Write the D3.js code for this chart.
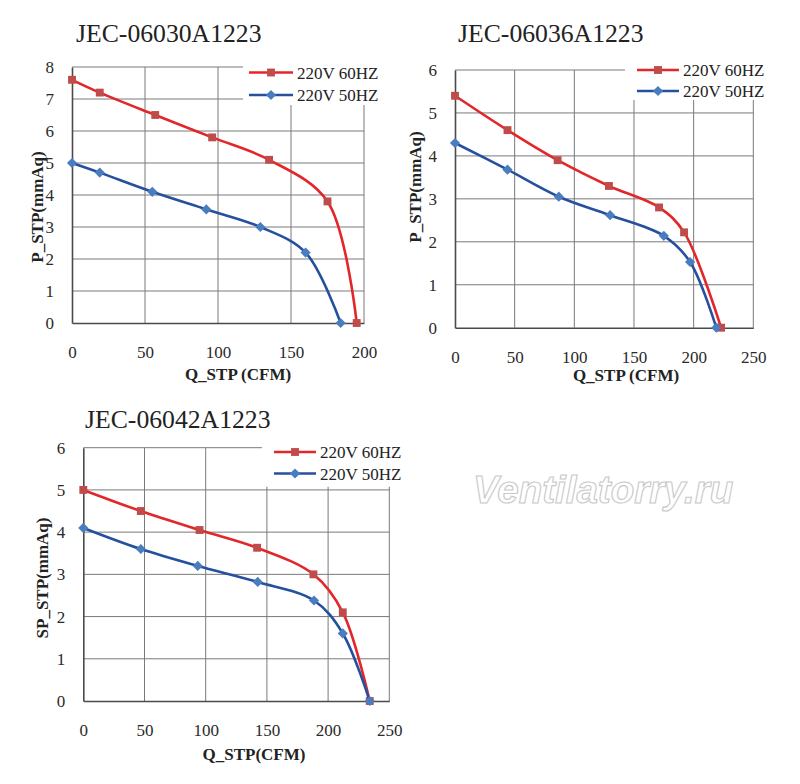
<!DOCTYPE html>
<html><head><meta charset="utf-8">
<script src="https://cdn.jsdelivr.net/npm/d3@7"></script>
<style>
html,body{margin:0;padding:0;background:#fff;}
svg{display:block;}
</style></head>
<body>
<svg id="c" width="800" height="784"></svg>
<script>
// ---------- data ----------
const seriesNames = ["220V 60HZ", "220V 50HZ"];
const titles = ["JEC-06030A1223", "JEC-06036A1223", "JEC-06042A1223"];
const yLabels = ["P_STP(mmAq)", "P_STP(mmAq)", "SP_STP(mmAq)"];
const xLabels = ["Q_STP (CFM)", "Q_STP (CFM)", "Q_STP(CFM)"];

const c1_xTicks = [0, 50, 100, 150, 200];
const c1_yTicks = [0, 1, 2, 3, 4, 5, 6, 7, 8];
const c1_q60 = [0, 19, 57, 96, 135, 175, 195];
const c1_p60 = [7.6, 7.2, 6.5, 5.8, 5.1, 3.8, 0];
const c1_q50 = [0, 19, 55, 92, 129, 160, 184];
const c1_p50 = [5.0, 4.7, 4.1, 3.55, 3.0, 2.2, 0];

const c2_xTicks = [0, 50, 100, 150, 200, 250];
const c2_yTicks = [0, 1, 2, 3, 4, 5, 6];
const c2_q60 = [0, 44, 86, 129, 171, 192, 223];
const c2_p60 = [5.4, 4.6, 3.9, 3.3, 2.8, 2.22, 0];
const c2_q50 = [0, 44, 87, 130, 175, 197, 219];
const c2_p50 = [4.3, 3.68, 3.05, 2.62, 2.14, 1.53, 0];

const c3_xTicks = [0, 50, 100, 150, 200, 250];
const c3_yTicks = [0, 1, 2, 3, 4, 5, 6];
const c3_q60 = [0, 47, 95, 142, 188, 212, 234];
const c3_p60 = [5.0, 4.5, 4.05, 3.63, 3.0, 2.1, 0];
const c3_q50 = [0, 47, 93.5, 142.5, 188.5, 212, 234];
const c3_p50 = [4.1, 3.6, 3.2, 2.82, 2.38, 1.6, 0];

const watermark = "Ventilatorry.ru";

// ---------- layout ----------
const svg = d3.select("#c");
const SERIF = "'Liberation Serif','Times New Roman',serif";

const layouts = [
  {x0:72, x1:364, yTop:67, yBot:323, titleX:76, titleY:42,
   leg:{x:243, y:55, w:145, h:50, lx0:249, lx1:293, row1:72.5, row2:95, tx:297},
   ylab:{x:37, y:207}, xlab:{x:238, y:380}},
  {x0:455, x1:753.3, yTop:70, yBot:327.7, titleX:458, titleY:42,
   leg:{x:625, y:55, w:160, h:45, lx0:637, lx1:679, row1:70, row2:91, tx:683},
   ylab:{x:415, y:187}, xlab:{x:626, y:381}},
  {x0:83.3, x1:389.3, yTop:447.7, yBot:701, titleX:85, titleY:428,
   leg:{x:262, y:440, w:150, h:46.7, lx0:274, lx1:316, row1:452, row2:473.5, tx:320},
   ylab:{x:41.7, y:578}, xlab:{x:254, y:760}}
];

const charts = [
  {xTicks:c1_xTicks, yTicks:c1_yTicks, s:[{q:c1_q60,p:c1_p60},{q:c1_q50,p:c1_p50}]},
  {xTicks:c2_xTicks, yTicks:c2_yTicks, s:[{q:c2_q60,p:c2_p60},{q:c2_q50,p:c2_p50}]},
  {xTicks:c3_xTicks, yTicks:c3_yTicks, s:[{q:c3_q60,p:c3_p60},{q:c3_q50,p:c3_p50}]}
];

const lineColors = ["#e3262a", "#24509e"];
const markColors = ["#bf4b4a", "#4a7dbf"];
const symbols = [d3.symbol(d3.symbolSquare, 62), d3.symbol(d3.symbolDiamond2, 66)];

// watermark
svg.append("text")
  .attr("x", 473).attr("y", 503)
  .attr("font-family", "'Liberation Sans',Arial,sans-serif")
  .attr("font-weight", "bold").attr("font-style", "italic")
  .attr("font-size", 38.5)
  .attr("fill", "#fff").attr("stroke", "#c8c8c8").attr("stroke-width", 1.1)
  .text(watermark);

charts.forEach((ch, i) => {
  const L = layouts[i];
  const x = d3.scaleLinear().domain([ch.xTicks[0], ch.xTicks[ch.xTicks.length-1]]).range([L.x0, L.x1]);
  const y = d3.scaleLinear().domain([ch.yTicks[0], ch.yTicks[ch.yTicks.length-1]]).range([L.yBot, L.yTop]);
  const g = svg.append("g");

  // grid
  g.append("g").selectAll("line.h").data(ch.yTicks.slice(1)).join("line")
    .attr("x1", L.x0).attr("x2", L.x1)
    .attr("y1", d => y(d)).attr("y2", d => y(d))
    .attr("stroke", "#7a7a7a").attr("stroke-width", 1);
  g.append("g").selectAll("line.v").data(ch.xTicks.slice(1)).join("line")
    .attr("x1", d => x(d)).attr("x2", d => x(d))
    .attr("y1", L.yTop).attr("y2", L.yBot)
    .attr("stroke", "#7a7a7a").attr("stroke-width", 1);

  // legend box (white, covers grid)
  g.append("rect").attr("x", L.leg.x).attr("y", L.leg.y)
    .attr("width", L.leg.w).attr("height", L.leg.h).attr("fill", "#fff");

  // axes
  const xa = g.append("g").attr("transform", `translate(0,${L.yBot})`)
    .call(d3.axisBottom(x).tickValues(ch.xTicks).tickSize(0).tickPadding(23).tickFormat(d3.format("d")));
  const ya = g.append("g").attr("transform", `translate(${L.x0},0)`)
    .call(d3.axisLeft(y).tickValues(ch.yTicks).tickSize(0).tickPadding(18).tickFormat(d3.format("d")));
  [xa, ya].forEach(a => {
    a.select(".domain").attr("stroke", "#4a4a4a").attr("stroke-width", 1.6);
    a.selectAll("text").attr("font-family", SERIF).attr("font-size", 17).attr("fill", "#2a2a2a");
  });

  // series
  const line = d3.line().x(d => x(d[0])).y(d => y(d[1])).curve(d3.curveCatmullRom.alpha(0.5));
  ch.s.forEach((s, k) => {
    const pts = s.q.map((q, j) => [q, s.p[j]]);
    g.append("path").attr("d", line(pts)).attr("fill", "none")
      .attr("stroke", lineColors[k]).attr("stroke-width", 2.6);
    g.append("g").selectAll("path").data(pts).join("path")
      .attr("transform", d => `translate(${x(d[0])},${y(d[1])})`)
      .attr("d", symbols[k]).attr("fill", markColors[k]);
  });

  // legend entries
  seriesNames.forEach((n, k) => {
    const ry = k === 0 ? L.leg.row1 : L.leg.row2;
    g.append("line").attr("x1", L.leg.lx0).attr("x2", L.leg.lx1)
      .attr("y1", ry).attr("y2", ry).attr("stroke", lineColors[k]).attr("stroke-width", 2.6);
    g.append("path").attr("transform", `translate(${(L.leg.lx0+L.leg.lx1)/2},${ry})`)
      .attr("d", symbols[k]).attr("fill", markColors[k]);
    g.append("text").attr("x", L.leg.tx).attr("y", ry + 6)
      .attr("font-family", SERIF).attr("font-size", 17).attr("fill", "#222").text(n);
  });

  // title
  g.append("text").attr("x", L.titleX).attr("y", L.titleY)
    .attr("font-family", SERIF).attr("font-size", 25.7).attr("fill", "#222").text(titles[i]);

  // axis titles
  g.append("text").attr("x", L.xlab.x).attr("y", L.xlab.y).attr("text-anchor", "middle")
    .attr("font-family", SERIF).attr("font-weight", "bold").attr("font-size", 17).attr("fill", "#222")
    .text(xLabels[i]);
  g.append("text").attr("transform", `translate(${L.ylab.x + 6},${L.ylab.y}) rotate(-90)`)
    .attr("text-anchor", "middle")
    .attr("font-family", SERIF).attr("font-weight", "bold").attr("font-size", 17).attr("fill", "#222")
    .text(yLabels[i]);
});
</script>
</body></html>
